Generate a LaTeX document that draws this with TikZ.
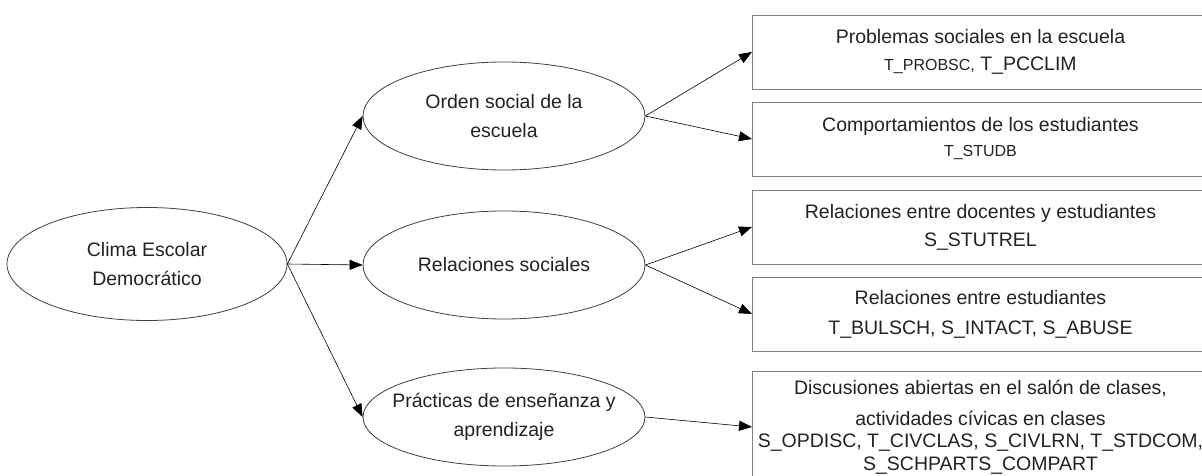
\documentclass[tikz,border=0pt]{standalone}
\usepackage{fontspec}
\setmainfont{Liberation Sans}
\usetikzlibrary{shapes.geometric,arrows.meta}
\definecolor{txt}{HTML}{222222}
\definecolor{edge}{HTML}{404040}
\definecolor{boxedge}{HTML}{808080}
\tikzset{
  oval/.style={ellipse, draw=edge, line width=0.8pt, inner sep=-14pt, align=center, text=txt,
    font=\fontsize{19.5}{29}\selectfont},
  infobox/.style={rectangle, draw=boxedge, line width=0.9pt, inner sep=0pt, align=center, text=txt,
    minimum width=456, anchor=west, font=\fontsize{19.5}{27}\selectfont},
  conn/.style={draw=black, line width=0.6pt, -{Triangle[length=13pt,width=10pt]}}
}
\newcommand{\sm}{\fontsize{16}{27}\selectfont}
\begin{document}
\begin{tikzpicture}[x=1pt,y=-1pt]
\useasboundingbox (0,0) rectangle (1202,476);
\clip (0,0) rectangle (1202,476);
\fill[white] (0,0) rectangle (1202,476);
\node[oval, minimum width=280, minimum height=113] (clima) at (147,264) {Clima Escolar\\Democrático};
\node[oval, minimum width=282, minimum height=108] (orden) at (504,116) {Orden social de la\\escuela};
\node[oval, minimum width=282, minimum height=108] (rel) at (504,265) {Relaciones sociales};
\node[oval, minimum width=282, minimum height=98] (prac) at (504,417) {Prácticas de enseñanza y\\aprendizaje};
\node[infobox, minimum height=74] (b1) at (752,52) {Problemas sociales en la escuela\\{\sm T\_PROBSC,} T\_PCCLIM};
\node[infobox, minimum height=74] (b2) at (752,139) {Comportamientos de los estudiantes\\[-2pt]{\sm T\_STUDB}};
\node[infobox, minimum height=74] (b3) at (752,227) {Relaciones entre docentes y estudiantes\\[1pt]S\_STUTREL};
\node[infobox, minimum height=74] (b4) at (752,314) {Relaciones entre estudiantes\\[3pt]T\_BULSCH, S\_INTACT, S\_ABUSE};
\node[infobox, minimum height=112] (b5) at (752,427) {Discusiones abiertas en el salón de clases,\\[4pt]actividades cívicas en clases\\[-5pt]S\_OPDISC, T\_CIVCLAS, S\_CIVLRN, T\_STDCOM,\\[-4pt]S\_SCHPARTS\_COMPART};
\draw[conn] (clima.east) -- (orden.west);
\draw[conn] (clima.east) -- (rel.west);
\draw[conn] (clima.east) -- (prac.west);
\draw[conn] (orden.east) -- (b1.west);
\draw[conn] (orden.east) -- (b2.west);
\draw[conn] (rel.east) -- (b3.west);
\draw[conn] (rel.east) -- (b4.west);
\draw[conn] (prac.east) -- (b5.west);
\end{tikzpicture}
\end{document}
